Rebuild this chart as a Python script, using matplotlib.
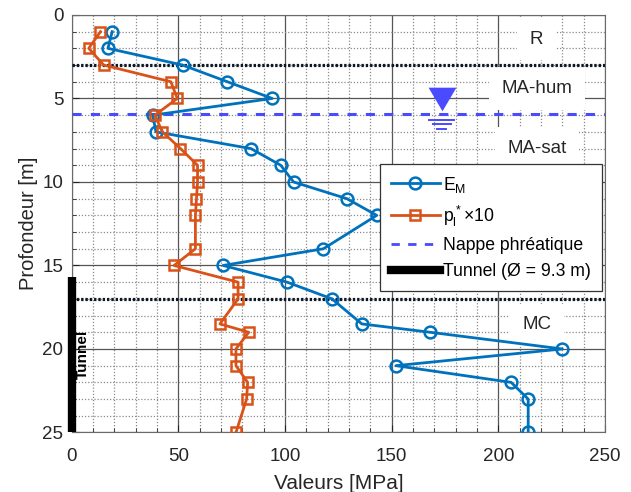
import matplotlib
matplotlib.use("Agg")
import matplotlib.pyplot as plt
from matplotlib.ticker import MultipleLocator
from matplotlib.lines import Line2D

plt.rcParams["font.family"] = ["Liberation Sans", "DejaVu Sans"]
plt.rcParams["mathtext.fontset"] = "custom"
plt.rcParams["mathtext.rm"] = "Liberation Sans"
plt.rcParams["mathtext.it"] = "Liberation Sans"

# --- data ---
depth = [1, 2, 3, 4, 5, 6, 7, 8, 9, 10, 11, 12, 14, 15, 16, 17, 18.5, 19, 20, 21, 22, 23, 25]
em    = [19, 17, 52, 73, 94, 38, 39.5, 84, 98, 104, 129, 143, 118, 71, 101, 122, 136, 168, 230, 152, 206, 214, 214]
pl_x10 = [13.5, 8, 15, 46.5, 49.5, 39, 42.5, 51, 59, 59, 58.5, 58, 58, 48, 78, 78, 69.5, 83, 77, 77, 82.5, 82, 77]

layer_bounds = [3, 17]
layer_names  = ["R", "MA-hum", "MA-sat", "MC"]
layer_label_y = [1.45, 4.4, 8.0, 18.55]
water_table = 5.95
tunnel_top, tunnel_bottom = 15.7, 25

BLUE = "#0072BD"
ORANGE = "#D95319"
WATER = "#4a4aff"
DARK = "#262626"

fig = plt.figure(figsize=(6.31, 4.92), dpi=100)
ax = fig.add_axes([0.1136, 0.121, 0.8452, 0.8486])

ax.plot(em, depth, color=BLUE, lw=2, marker="o", ms=8.5, mfc="none", mew=1.8, zorder=5)
ax.plot(pl_x10, depth, color=ORANGE, lw=2, marker="s", ms=6.5, mfc="none", mew=1.8, zorder=5)

for yb in layer_bounds:
    ax.axhline(yb, color="#0d1726", lw=2.3, ls=(0, (0.75, 0.6)), zorder=4)
ax.axhline(water_table, color=WATER, lw=2.2, ls=(0, (3, 3)), zorder=4)

# water table symbol
sx = 173.4
ax.plot([sx], [water_table - 0.93], marker=[(-1, 0.85), (1, 0.85), (0, -0.85)],
        ms=20, color=WATER, mec="none", zorder=6)
for dy, hw in [(0.35, 5.9), (0.6, 4.2), (0.85, 2.1)]:
    ax.plot([sx - hw, sx + hw], [water_table + dy, water_table + dy], color=WATER, lw=1.4, zorder=6)

# tunnel
ax.plot([0, 0], [tunnel_top, tunnel_bottom], color="black", lw=6, solid_capstyle="butt",
        clip_on=False, zorder=7)
ax.text(5.2, 20.3, "Tunnel", rotation=90, fontsize=11, fontweight="bold",
        ha="center", va="center", color="black", zorder=7)

for name, yl in zip(layer_names, layer_label_y):
    ax.text(218, yl, name, fontsize=13.5, color=DARK, ha="center", va="center", zorder=3,
            bbox=dict(facecolor="white", edgecolor="none", pad=9))

ax.set_xlim(0, 250)
ax.set_ylim(25, 0)
ax.xaxis.set_major_locator(MultipleLocator(50))
ax.yaxis.set_major_locator(MultipleLocator(5))
ax.xaxis.set_minor_locator(MultipleLocator(10))
ax.yaxis.set_minor_locator(MultipleLocator(1))
ax.grid(which="major", color="#555555", lw=0.9, ls="-", zorder=0)
ax.grid(which="minor", color="#8a8a8a", lw=0.9, ls=(0, (1, 1.5)), zorder=0)
ax.set_axisbelow(True)
ax.tick_params(which="both", direction="in", colors=DARK, labelsize=13.5)
ax.tick_params(which="major", length=5)
ax.tick_params(which="minor", length=3)
ax.tick_params(axis="y", pad=6)
ax.tick_params(axis="x", pad=11)
for sp in ax.spines.values():
    sp.set_color("#6a6a6a")

ax.set_xlabel("Valeurs [MPa]", fontsize=15, color=DARK, labelpad=7)
ax.set_ylabel("Profondeur [m]", fontsize=14.5, color=DARK, labelpad=3)

handles = [
    Line2D([], [], color=BLUE, lw=2, marker="o", ms=8.5, mfc="none", mew=1.8),
    Line2D([], [], color=ORANGE, lw=2, marker="s", ms=6.5, mfc="none", mew=1.8),
    Line2D([], [], color=WATER, lw=2, ls=(0, (3, 3))),
    Line2D([], [], color="black", lw=6),
]
labels = ["$E_M$", "$p_l^*$×10", "Nappe phréatique", "Tunnel (Ø = 9.3 m)"]
leg = ax.legend(handles, labels, loc="upper left", bbox_to_anchor=(0.578, 0.643),
                borderaxespad=0, fontsize=12.7, handlelength=2.8, handletextpad=0.2,
                labelspacing=0.5, borderpad=0.6, fancybox=False, framealpha=1,
                edgecolor="#333333")
leg.get_frame().set_linewidth(0.9)
leg.set_zorder(10)

fig.savefig("out.png", dpi=100)
